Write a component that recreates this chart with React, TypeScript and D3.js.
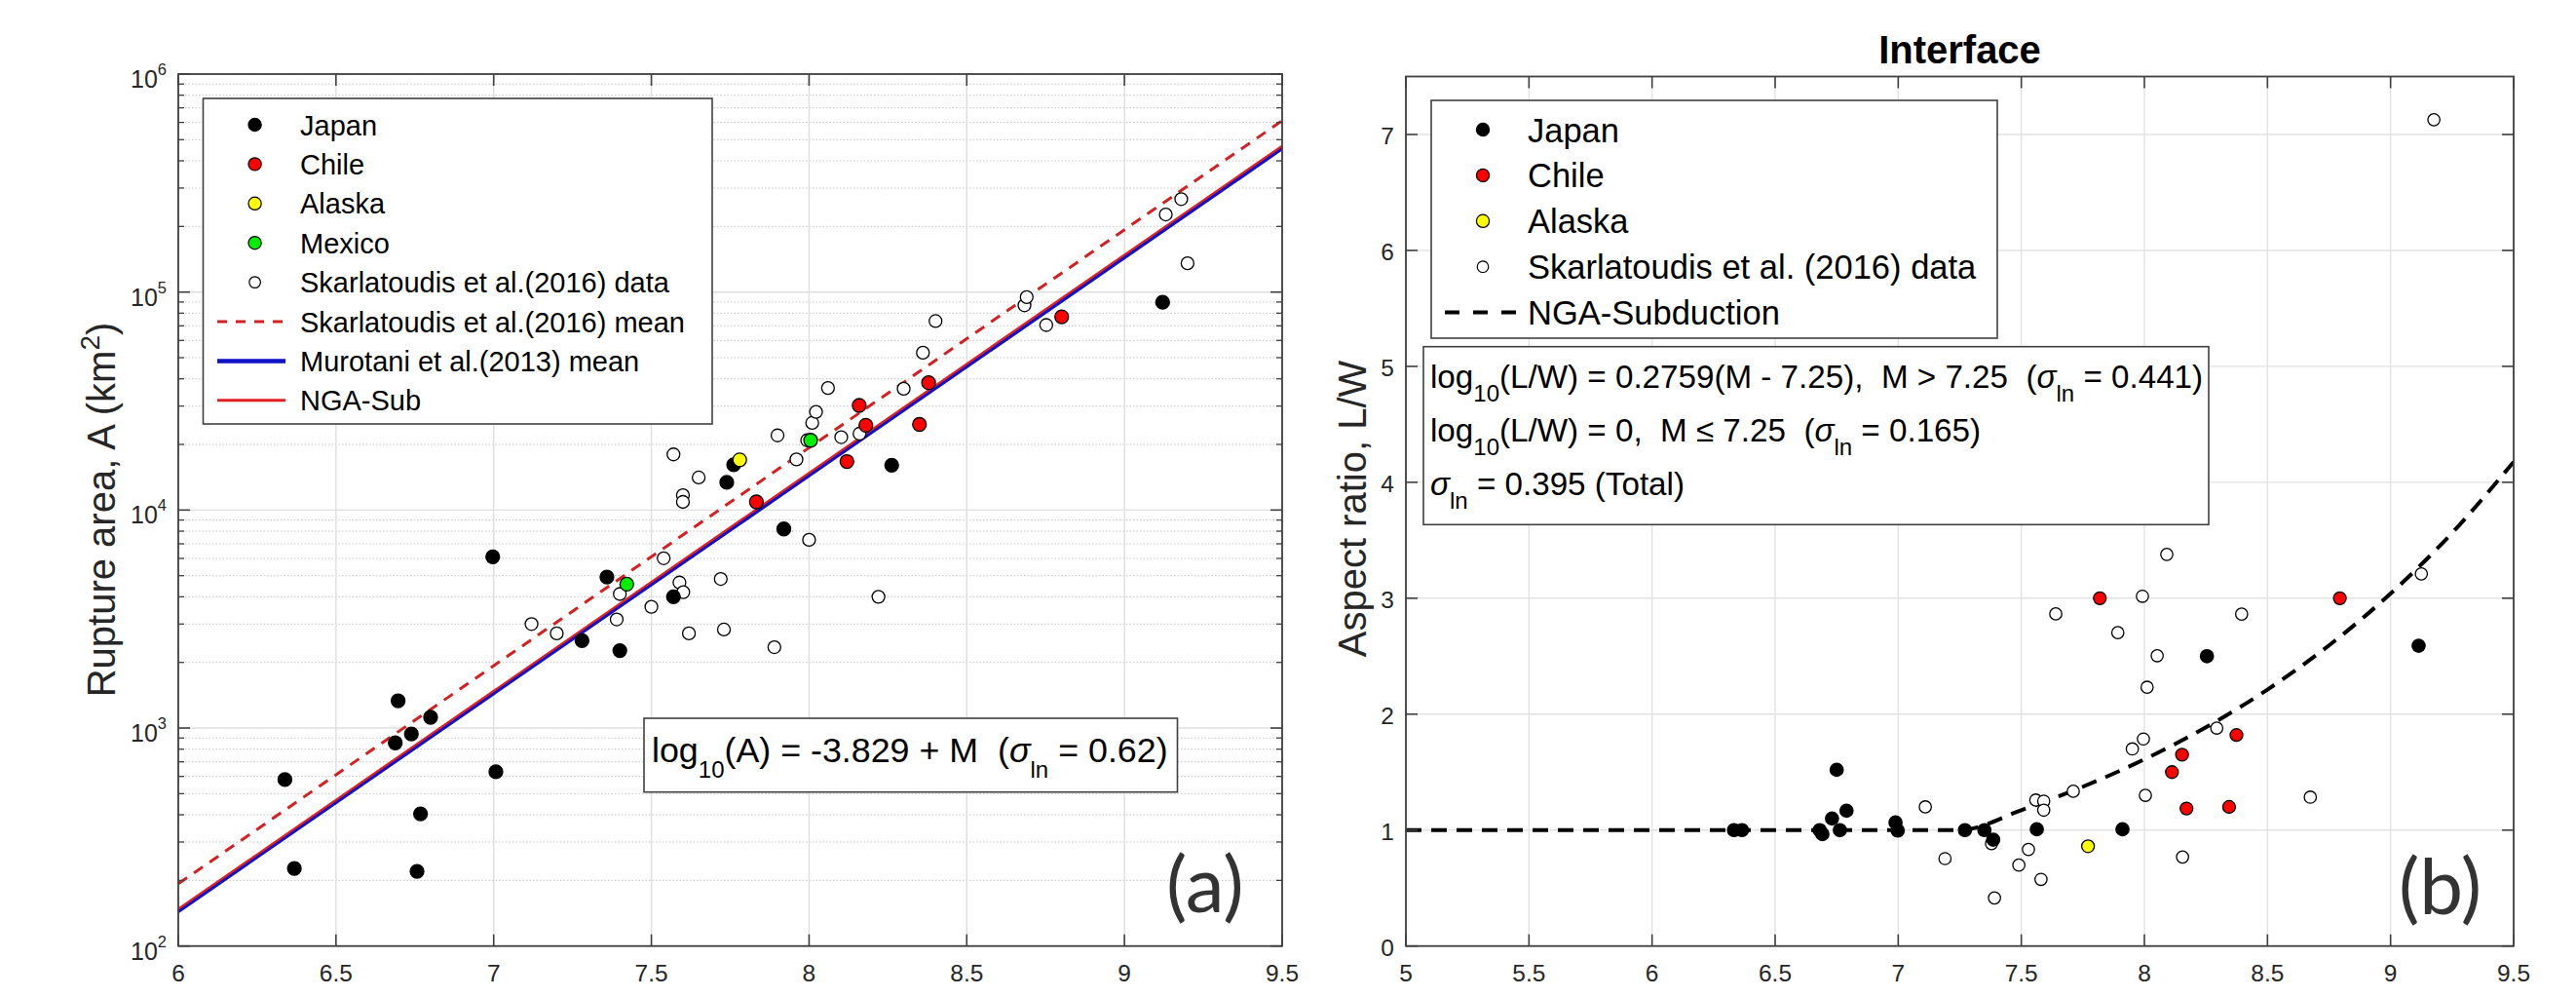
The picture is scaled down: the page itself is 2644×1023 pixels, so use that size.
import React from 'react';
import * as d3 from 'd3';

const FONT = '"Liberation Sans", Arial, Helvetica, sans-serif';
const INK = '#262626';

// ---------------- Panel (a): Rupture area vs magnitude ----------------
const aJapan: [number, number][] = [
  [6.338, 580], [6.368, 227], [6.697, 1334], [6.688, 855], [6.739, 940], [6.8, 1120],
  [6.768, 404], [6.757, 220], [6.997, 6100], [7.007, 630], [7.28, 2518], [7.359, 4930],
  [7.4, 2265], [7.57, 4000], [7.92, 8190], [7.739, 13400], [7.761, 16150], [8.262, 16060],
  [9.121, 89800],
];
const aChile: [number, number][] = [
  [7.833, 10900], [8.12, 16700], [8.18, 24500], [8.159, 30200], [8.35, 24700], [8.379, 38400], [8.801, 77000],
];
const aAlaska: [number, number][] = [[7.78, 17000]];
const aMexico: [number, number][] = [[7.422, 4570], [8.005, 20900]];
const aSkarl: [number, number][] = [
  [7.12, 3000], [7.2, 2717], [7.39, 3150], [7.4, 4120], [7.5, 3600], [7.539, 6010], [7.589, 4650],
  [7.601, 4200], [7.619, 2717], [7.72, 4830], [7.73, 2830], [7.89, 2350], [8.0, 7300], [8.22, 4000],
  [7.6, 11700], [7.6, 10900], [7.57, 18000], [7.65, 14100], [7.9, 22000], [7.96, 17070], [7.994, 20900],
  [8.01, 25100], [8.022, 28200], [8.06, 36300], [8.102, 21600], [8.16, 22400], [8.3, 36000],
  [8.361, 52700], [8.401, 73600], [8.683, 86900], [8.69, 94800], [8.752, 70600], [9.131, 227000],
  [9.18, 267000], [9.2, 135500],
];
const aSkarlMean: [number, number][] = [[6, 193], [9.5, 611000]];
const aMurotaniMean: [number, number][] = [[6, 144], [9.5, 455000]];
const aNgaSub: [number, number][] = [[6, 148], [9.5, 468800]];

const aXTicks = [6, 6.5, 7, 7.5, 8, 8.5, 9, 9.5];
const aYExponents = [2, 3, 4, 5, 6];

const aLegend = [
  { label: 'Japan', kind: 'dot', color: '#000000' },
  { label: 'Chile', kind: 'dot', color: '#ff0000' },
  { label: 'Alaska', kind: 'dot', color: '#ffff00' },
  { label: 'Mexico', kind: 'dot', color: '#00ee00' },
  { label: 'Skarlatoudis et al.(2016) data', kind: 'open', color: '#ffffff' },
  { label: 'Skarlatoudis et al.(2016) mean', kind: 'dash', color: '#d42020' },
  { label: 'Murotani et al.(2013) mean', kind: 'blue', color: '#1010c8' },
  { label: 'NGA-Sub', kind: 'red', color: '#e02020' },
];

// ---------------- Panel (b): Aspect ratio vs magnitude ----------------
const bJapan: [number, number][] = [
  [6.333, 1.0], [6.365, 1.0], [6.681, 1.0], [6.692, 0.965], [6.731, 1.1], [6.75, 1.52], [6.763, 1.0],
  [6.79, 1.167], [6.989, 1.066], [6.998, 0.996], [7.271, 1.0], [7.35, 1.0], [7.386, 0.917],
  [7.563, 1.007], [7.911, 1.007], [8.254, 2.5], [9.114, 2.59],
];
const bChile: [number, number][] = [
  [7.819, 3.0], [8.794, 3.0], [8.374, 1.82], [8.153, 1.65], [8.112, 1.5], [8.171, 1.186], [8.344, 1.2],
];
const bAlaska: [number, number][] = [[7.771, 0.861]];
const bSkarl: [number, number][] = [
  [8.091, 3.378], [7.992, 3.017], [7.64, 2.865], [7.892, 2.703], [8.395, 2.863], [8.052, 2.504],
  [8.011, 2.232], [9.125, 3.21], [8.294, 1.88], [7.996, 1.786], [7.951, 1.7], [7.711, 1.335],
  [8.004, 1.3], [8.674, 1.284], [7.11, 1.2], [7.559, 1.259], [7.591, 1.25], [7.591, 1.172],
  [7.379, 0.883], [7.19, 0.754], [7.529, 0.833], [7.49, 0.698], [7.58, 0.575], [7.391, 0.415],
  [8.155, 0.768], [9.176, 7.127],
];
const bNgaCurve: [number, number][] = [
  [5, 1], [7.25, 1], [7.5, 1.172], [7.75, 1.374], [8, 1.61], [8.25, 1.887], [8.5, 2.212],
  [8.75, 2.593], [9, 3.04], [9.25, 3.563], [9.5, 4.176],
];
const bXTicks = [5, 5.5, 6, 6.5, 7, 7.5, 8, 8.5, 9, 9.5];
const bYTicks = [0, 1, 2, 3, 4, 5, 6, 7];

const bLegend = [
  { label: 'Japan', kind: 'dot', color: '#000000' },
  { label: 'Chile', kind: 'dot', color: '#ff0000' },
  { label: 'Alaska', kind: 'dot', color: '#ffff00' },
  { label: 'Skarlatoudis et al. (2016) data', kind: 'open', color: '#ffffff' },
  { label: 'NGA-Subduction', kind: 'dash', color: '#000000' },
];

export default function App() {
  const xA = d3.scaleLinear().domain([6, 9.5]).range([183, 1316]);
  const yA = d3.scaleLog().domain([1e2, 1e6]).range([970.7, 76]);
  const xB = d3.scaleLinear().domain([5, 9.5]).range([1443, 2580]);
  const yB = d3.scaleLinear().domain([0, 7.5]).range([970.7, 78.5]);

  const [ax0, ax1] = xA.range();
  const [ay0, ay1] = yA.range(); // bottom, top
  const [bx0, bx1] = xB.range();
  const [by0, by1] = yB.range();

  const lineA = d3.line<[number, number]>().x(d => xA(d[0])).y(d => yA(d[1]));
  const lineB = d3.line<[number, number]>().x(d => xB(d[0])).y(d => yB(d[1])).curve(d3.curveMonotoneX);

  const minorA = yA.ticks().filter(v => {
    const e = Math.log10(v);
    return Math.abs(e - Math.round(e)) > 1e-6;
  });
  const majorA = aYExponents.map(e => Math.pow(10, e));

  const dot = (pts: [number, number][], xs: any, ys: any, fill: string, r: number, key: string) =>
    pts.map((d, i) => (
      <circle key={key + i} cx={xs(d[0])} cy={ys(d[1])} r={r} fill={fill} stroke="#000" strokeWidth={1.3} />
    ));

  const legendSymbol = (kind: string, color: string, cx: number, cy: number, x0: number, x1: number, small: number) => {
    if (kind === 'dot') return <circle cx={cx} cy={cy} r={small} fill={color} stroke="#000" strokeWidth={1.2} />;
    if (kind === 'open') return <circle cx={cx} cy={cy} r={small - 0.8} fill="#fff" stroke="#000" strokeWidth={1.2} />;
    if (kind === 'dash')
      return <line x1={x0} x2={x1} y1={cy} y2={cy} stroke={color} strokeWidth={color === '#000000' ? 4 : 3} strokeDasharray={color === '#000000' ? '15,14' : '10,9'} />;
    if (kind === 'blue') return <line x1={x0} x2={x1} y1={cy} y2={cy} stroke={color} strokeWidth={4.5} />;
    return <line x1={x0} x2={x1} y1={cy} y2={cy} stroke={color} strokeWidth={3} />;
  };

  return (
    <svg width={2644} height={1023} style={{ position: 'absolute', left: 0, top: 0, background: '#fff' }} fontFamily={FONT}>
      <defs>
        <clipPath id="clipA"><rect x={ax0} y={ay1} width={ax1 - ax0} height={ay0 - ay1} /></clipPath>
        <clipPath id="clipB"><rect x={bx0} y={by1} width={bx1 - bx0} height={by0 - by1} /></clipPath>
      </defs>
      <rect x={0} y={0} width={2644} height={1023} fill="#fff" />

      {/* ============ Panel (a) ============ */}
      <g>
        {minorA.map((v, i) => (
          <line key={'mg' + i} x1={ax0} x2={ax1} y1={yA(v)} y2={yA(v)} stroke="#c4c4c4" strokeWidth={1} strokeDasharray="1.5,2" />
        ))}
        {majorA.map((v, i) => (
          <line key={'Mg' + i} x1={ax0} x2={ax1} y1={yA(v)} y2={yA(v)} stroke="#dedede" strokeWidth={1.4} />
        ))}
        {aXTicks.map((v, i) => (
          <line key={'xg' + i} x1={xA(v)} x2={xA(v)} y1={ay1} y2={ay0} stroke="#dedede" strokeWidth={1.4} />
        ))}

        <g clipPath="url(#clipA)">
          <path d={lineA(aSkarlMean) || ''} fill="none" stroke="#d42020" strokeWidth={3} strokeDasharray="11,8.5" />
          <path d={lineA(aMurotaniMean) || ''} fill="none" stroke="#1010c8" strokeWidth={3.5} />
          <path d={lineA(aNgaSub) || ''} fill="none" stroke="#e02020" strokeWidth={2.2} />
        </g>

        {dot(aSkarl, xA, yA, '#ffffff', 6.5, 'as')}
        {dot(aJapan, xA, yA, '#000000', 7, 'aj')}
        {dot(aChile, xA, yA, '#ff0000', 7, 'ac')}
        {dot(aAlaska, xA, yA, '#ffff00', 7, 'aa')}
        {dot(aMexico, xA, yA, '#00ee00', 7, 'am')}

        <rect x={ax0} y={ay1} width={ax1 - ax0} height={ay0 - ay1} fill="none" stroke="#404040" strokeWidth={1.8} />
        {aXTicks.map((v, i) => (
          <g key={'xt' + i}>
            <line x1={xA(v)} x2={xA(v)} y1={ay0} y2={ay0 - 12} stroke="#404040" strokeWidth={1.6} />
            <line x1={xA(v)} x2={xA(v)} y1={ay1} y2={ay1 + 12} stroke="#404040" strokeWidth={1.6} />
            <text x={xA(v)} y={1007} textAnchor="middle" fontSize={24.5} fill={INK}>{String(v)}</text>
          </g>
        ))}
        {minorA.map((v, i) => (
          <g key={'ymt' + i}>
            <line x1={ax0} x2={ax0 + 6} y1={yA(v)} y2={yA(v)} stroke="#404040" strokeWidth={1.3} />
            <line x1={ax1} x2={ax1 - 6} y1={yA(v)} y2={yA(v)} stroke="#404040" strokeWidth={1.3} />
          </g>
        ))}
        {aYExponents.map((e, i) => {
          const y = yA(Math.pow(10, e));
          return (
            <g key={'yt' + i}>
              <line x1={ax0} x2={ax0 + 12} y1={y} y2={y} stroke="#404040" strokeWidth={1.6} />
              <line x1={ax1} x2={ax1 - 12} y1={y} y2={y} stroke="#404040" strokeWidth={1.6} />
              <text x={171} y={y + 14} textAnchor="end" fontSize={25} fill={INK}>
                10<tspan dy={-13} fontSize={16.5}>{String(e)}</tspan>
              </text>
            </g>
          );
        })}

        <text transform="translate(118,523) rotate(-90)" textAnchor="middle" fontSize={40} fill={INK}>
          Rupture area, A (km<tspan dy={-16} fontSize={28}>2</tspan><tspan dy={16}>)</tspan>
        </text>

        <rect x={208.5} y={101} width={522.5} height={334} fill="#fff" stroke="#404040" strokeWidth={1.6} />
        {aLegend.map((d, i) => {
          const cy = 128 + i * 40.4;
          return (
            <g key={'al' + i}>
              {legendSymbol(d.kind, d.color, 261.6, cy, 223, 293, 6.6)}
              <text x={308} y={cy + 10.5} fontSize={29} fill="#000">{d.label}</text>
            </g>
          );
        })}

        <rect x={661} y={737} width={547.5} height={75.7} fill="#fff" stroke="#404040" strokeWidth={1.6} />
        <text x={669} y={781.5} fontSize={35.8} fill="#000" style={{ whiteSpace: 'pre' }}>
          {'log'}<tspan dy={16} fontSize={24}>10</tspan><tspan dy={-16}>{'(A) = -3.829 + M  ('}</tspan><tspan fontStyle="italic">σ</tspan><tspan dy={16} fontSize={24}>ln</tspan><tspan dy={-16}>{' = 0.62)'}</tspan>
        </text>

        <text x={1197} y={936} fontSize={80} fontFamily="Lato, 'Open Sans', sans-serif" fill="#333">(a)</text>
      </g>

      {/* ============ Panel (b) ============ */}
      <g>
        {bYTicks.map((v, i) => (
          <line key={'byg' + i} x1={bx0} x2={bx1} y1={yB(v)} y2={yB(v)} stroke="#e2e2e2" strokeWidth={1.4} />
        ))}
        {bXTicks.map((v, i) => (
          <line key={'bxg' + i} x1={xB(v)} x2={xB(v)} y1={by1} y2={by0} stroke="#e2e2e2" strokeWidth={1.4} />
        ))}

        <g clipPath="url(#clipB)">
          <path d={lineB(bNgaCurve) || ''} fill="none" stroke="#000" strokeWidth={4} strokeDasharray="16,10" />
        </g>

        {dot(bSkarl, xB, yB, '#ffffff', 6.2, 'bs')}
        {dot(bJapan, xB, yB, '#000000', 6.7, 'bj')}
        {dot(bChile, xB, yB, '#ff0000', 6.5, 'bc')}
        {dot(bAlaska, xB, yB, '#ffff00', 6.5, 'ba')}

        <rect x={bx0} y={by1} width={bx1 - bx0} height={by0 - by1} fill="none" stroke="#404040" strokeWidth={1.8} />
        {bXTicks.map((v, i) => (
          <g key={'bxt' + i}>
            <line x1={xB(v)} x2={xB(v)} y1={by0} y2={by0 - 12} stroke="#404040" strokeWidth={1.6} />
            <line x1={xB(v)} x2={xB(v)} y1={by1} y2={by1 + 12} stroke="#404040" strokeWidth={1.6} />
            <text x={xB(v)} y={1007} textAnchor="middle" fontSize={24.5} fill={INK}>{String(v)}</text>
          </g>
        ))}
        {bYTicks.map((v, i) => (
          <g key={'byt' + i}>
            <line x1={bx0} x2={bx0 + 12} y1={yB(v)} y2={yB(v)} stroke="#404040" strokeWidth={1.6} />
            <line x1={bx1} x2={bx1 - 12} y1={yB(v)} y2={yB(v)} stroke="#404040" strokeWidth={1.6} />
            <text x={1431} y={yB(v) + 10} textAnchor="end" fontSize={24.5} fill={INK}>{String(v)}</text>
          </g>
        ))}

        <text transform="translate(1402,522) rotate(-90)" textAnchor="middle" fontSize={40} fill={INK}>
          Aspect ratio, L/W
        </text>

        <text x={(bx0 + bx1) / 2} y={65} textAnchor="middle" fontSize={40} fontWeight="bold" fill="#000">Interface</text>

        <rect x={1469} y={103} width={581} height={244} fill="#fff" stroke="#404040" strokeWidth={1.6} />
        {bLegend.map((d, i) => {
          const cy = 133 + i * 46.9;
          return (
            <g key={'bl' + i}>
              {legendSymbol(d.kind, d.color, 1522, cy, 1483, 1557, 6.6)}
              <text x={1568} y={cy + 12.5} fontSize={34.5} fill="#000">{d.label}</text>
            </g>
          );
        })}

        <rect x={1461} y={355.7} width={806} height={182.6} fill="#fff" stroke="#404040" strokeWidth={1.6} />
        <text x={1468} y={398} fontSize={33.2} fill="#000" style={{ whiteSpace: 'pre' }}>
          {'log'}<tspan dy={14} fontSize={24}>10</tspan><tspan dy={-14}>{'(L/W) = 0.2759(M - 7.25),  M > 7.25  ('}</tspan><tspan fontStyle="italic">σ</tspan><tspan dy={14} fontSize={24}>ln</tspan><tspan dy={-14}>{' = 0.441)'}</tspan>
        </text>
        <text x={1468} y={453} fontSize={33.2} fill="#000" style={{ whiteSpace: 'pre' }}>
          {'log'}<tspan dy={14} fontSize={24}>10</tspan><tspan dy={-14}>{'(L/W) = 0,  M ≤ 7.25  ('}</tspan><tspan fontStyle="italic">σ</tspan><tspan dy={14} fontSize={24}>ln</tspan><tspan dy={-14}>{' = 0.165)'}</tspan>
        </text>
        <text x={1468} y={508} fontSize={33.2} fill="#000" style={{ whiteSpace: 'pre' }}>
          <tspan fontStyle="italic">σ</tspan><tspan dy={14} fontSize={24}>ln</tspan><tspan dy={-14}>{' = 0.395 (Total)'}</tspan>
        </text>

        <text x={2462} y={938} fontSize={80} fontFamily="Lato, 'Open Sans', sans-serif" fill="#333">(b)</text>
      </g>
    </svg>
  );
}
